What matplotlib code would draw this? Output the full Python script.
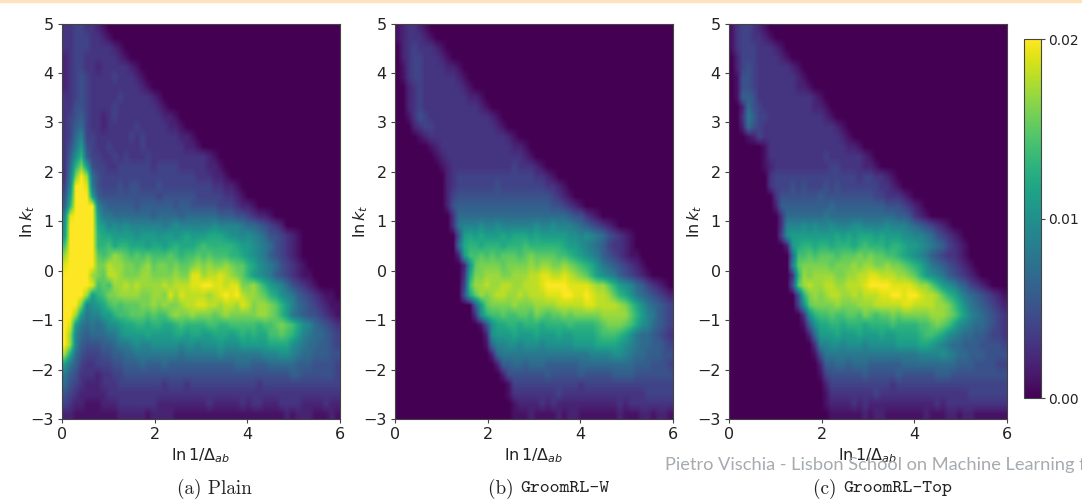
import numpy as np
import matplotlib
matplotlib.use("Agg")
import matplotlib.pyplot as plt

# cell values in units of 0.001, one base-21 digit per cell (0-9, a=10 ... k=20), top row = ln kt 5
plain_rows = [
"33443321",
"334443321",
"33444333321",
"234433333321",
"23443323333321",
"234543333433321",
"2345433333333321",
"334543333343333321",
"3355433334333333321",
"345643323433333333221",
"3467433233333433333221",
"347944333333434333333221",
"358b543343333343333333221",
"36ad644334343334333333333321",
"37dgb544334444443444433333221",
"38gkh7544444444444444444333221",
"49kkj854445455444544444444433221",
"5bkkkb655555555554555555444443321",
"6dkkkk97666665666666566555554443221",
"9jkkkkb8877777776777767777776665543221",
"akkkkkcb9a9a99999989a999999a999987765432",
"bkkkkkdccbbbbabbbabbabcbbbcccbaa9a987554321",
"ekkkkkddecddcccbccbcdcccdedddddcbba98754321",
"hkkkkkfefhgfefefeeefedeefefeeeddcba986543210",
"jkkkkkggihhggfghfggfgffghghgghgffdca98754321",
"kkkkkhgfiihggghhgggghggjjhiijihgfdba9865432110",
"kkkkkjefehhihihhhhihiiijjkkjjijjgghfdba9754321",
"kkkkhbdegghhhhgghhgjhjiiiihijkjkihhgfdca986543211",
"kkkg9abcefefffgghghgghiijjiihiihjighhgfdb976543211",
"kkhb899bbdeefffefeeghgghgggfghggggghhgfdb876554321",
"kjb87878aabccddcddccdeddddeeddeeeeedeefgfeca976543",
"kh97677788abbbbcbbbbccbccbbcccbcdcdcceefedb9877654",
"kh96555667889a99aaaaa9aa9aaabaaabbbbbcccca98776654",
"hc7544455667788888888788888898888888999aa987766655",
"b8643344455666766676666666666667776667777766655554",
"86533323344555555555555555555555555555555665555554",
"75432223334444444434443444444444444344444444444444",
"54322222333333333333333333333333333333333333333333",
"43221112223333333222222222322222323322233332222322",
"22111111112222212222111111111111111111112122211121",
]

groom_w_rows = [
"123321",
"1233321",
"023433321",
"0234433321",
"013443333221",
"0134433333321",
"00234333333321",
"0023433333333221",
"00234333333333321",
"0013543333333333321",
"00023443333333333321",
"0000123333333333333321",
"000000123333333333333221",
"0000000123333333333333321",
"000000001233333333333433321",
"00000000023444444444444443321",
"0000000002344444445444444443321",
"00000000024555555555555555554321",
"0000000002566666666666666666554321",
"0000000000377777777777777777777655321",
"000000000038999a99a999999a99a99987654321",
"000000000005bcbcbbbcbcccbcbbbbbaa9a98754321",
"000000000007cddcdddcdddeddddddcbba9876433210",
"000000000002beefefefffefgffffeedcba986543211",
"0000000000002afggggfgggghghhgghgfedca87654321",
"0000000000003cgghhhgghhhiijjiijihgfdba98654321",
"0000000000004ehhihhiihhiiijkkkkjjjjihhfdba9764321",
"0000000000005cfhghiihhihiiijjjkkjjkjiihfdca8765432",
"000000000000006bfgggghggghhhhiiiiijjiiiihgeca87654",
"000000000000003adeefeeffegfeffgfggggghhhhhfdb98654",
"00000000000000015accddcdddcddddeddddefgggfeca97654",
"00000000000000002abbbcbbbcbbbcbbccccdeeedca8776543",
"00000000000000001799aa9aaa9aaaaabbbbccccba98776654",
"000000000000000002788888888888888889999aa987766655",
"00000000000000000026677677766666677777777776665554",
"00000000000000000002555555565555565555566665555555",
"00000000000000000000144444444444434444444444444444",
"00000000000000000000133333333433333333333333344444",
"00000000000000000000012222323222222222223233333333",
"00000000000000000000011121111212211111112111221221",
]

groom_top_rows = [
"1344321",
"13443321",
"1344433321",
"02444333321",
"0245433333321",
"01554333333321",
"015543333333221",
"01665333333333321",
"002754333333333221",
"0038644333333333321",
"002754333333333333321",
"0001243333333333333321",
"000000133333333333333221",
"00000013333333333433333321",
"000000123333333333443333221",
"000000034444444444444443443321",
"0000000344454544454544444443321",
"000000003555555565555555554433321",
"00000000266666666676666666665554321",
"000000000377777778777777777777665321",
"0000000003999a9a99a999aa9999a99987654321",
"0000000004abbbbbbbbcbcbcccbcbbbaa998754321",
"00000000002bcddcddcdddcdedddcddcbba98764321",
"000000000007eefefffefffgfgffeedcba986543321",
"000000000009fgggggfggghghhgghggfedca87654321",
"000000000003dhghhhhgghhiijjiiihhgfdba98654321",
"000000000005fhihhiihhiiijkkkkjjjjihhfdba9764321",
"0000000000005dghghiihhihiiijjkkjkkjiihfdca87654321",
"0000000000004afgggghggghhhiiiiijjiiiihhgeca8765432",
"00000000000003adeefeeffegfeffgfggggghhhgfdb9876543",
"000000000000016accddcdddcddddeddddeefgfeca98776543",
"0000000000000027bbbcbbbcbbbcbbccccdeedca9877665443",
"000000000000000399aa9aaa9aaaaabbbbccba987766655554",
"00000000000000015888888888888888889999a98776665555",
"00000000000000002667767776666667777777777666555544",
"00000000000000001455555565555565555556665555555555",
"00000000000000000244444444444344444444444444444444",
"00000000000000000133333333433333333333333334444444",
"00000000000000000122223232222222222223233333333333",
"00000000000000000011111121221111111211122122111111",
]

panel_titles = [("(a) Plain", None), ("(b) ", "GroomRL-W"), ("(c) ", "GroomRL-Top")]
x_ticks = [0, 2, 4, 6]
y_ticks = [-3, -2, -1, 0, 1, 2, 3, 4, 5]
cbar_ticks = [0.00, 0.01, 0.02]
watermark = "Pietro Vischia - Lisbon School on Machine Learning for Physics"

DIGITS = "0123456789abcdefghijk"
def to_matrix(rows):
    return np.array([[DIGITS.index(c) * 0.001 for c in r.ljust(50, "0")[:50]] for r in rows])

W, H = 1082, 501
fig = plt.figure(figsize=(W / 100, H / 100), dpi=100)
def axbox(x0, y0, x1, y1):
    return [x0 / W, 1 - y1 / H, (x1 - x0) / W, (y1 - y0) / H]

fig.patches.append(plt.Rectangle((0, 1 - 1.5 / H), 1, 1.5 / H, transform=fig.transFigure,
                                 color="#fde3bd", zorder=0))

lefts = [62, 395, 729]
title_x = [(177, None), (488, 520), (813, 843)]
grey = "#444444"
for rows, left, (x1, x2), (t1, t2) in zip([plain_rows, groom_w_rows, groom_top_rows], lefts, title_x, panel_titles):
    ax = fig.add_axes(axbox(left, 23.5, left + 278, 419))
    mesh = ax.imshow(to_matrix(rows), cmap="viridis", vmin=0, vmax=0.02, aspect="auto",
                     extent=[0, 6, -3, 5], interpolation="bilinear")
    ax.set_xticks(x_ticks)
    ax.set_yticks(y_ticks)
    ax.tick_params(labelsize=11.5, length=3, width=0.8, pad=3, color=grey, labelcolor="#222222")
    ax.set_xlabel(r"$\ln 1/\Delta_{ab}$", fontsize=11.5, color="#222222", labelpad=3)
    ax.set_ylabel(r"$\ln k_t$", fontsize=11.5, color="#222222", labelpad=-5)
    for s in ax.spines.values():
        s.set_color(grey)
        s.set_linewidth(0.8)
    fig.text(x1 / W, 1 - 489 / H, t1, family="cmr10", fontsize=13.8, ha="left", va="center", color="#222222")
    if t2 is not None:
        fig.text(x2 / W, 1 - 489 / H, t2, family="cmtt10", fontsize=13.6, ha="left", va="center", color="#222222")

cax = fig.add_axes(axbox(1024, 39, 1041, 398))
cb = fig.colorbar(mesh, cax=cax)
cb.set_ticks(cbar_ticks)
cb.set_ticklabels(["0.00", "0.01", "0.02"])
cax.tick_params(labelsize=10, length=3, width=0.8, pad=2, color=grey, labelcolor="#222222")
cb.outline.set_edgecolor(grey)
cb.outline.set_linewidth(0.8)

fig.text(665 / W, 1 - 465 / H, watermark, family="Lato", fontsize=13.15, color="#a6abaf",
         ha="left", va="center")
fig.savefig("out.png", dpi=100)
